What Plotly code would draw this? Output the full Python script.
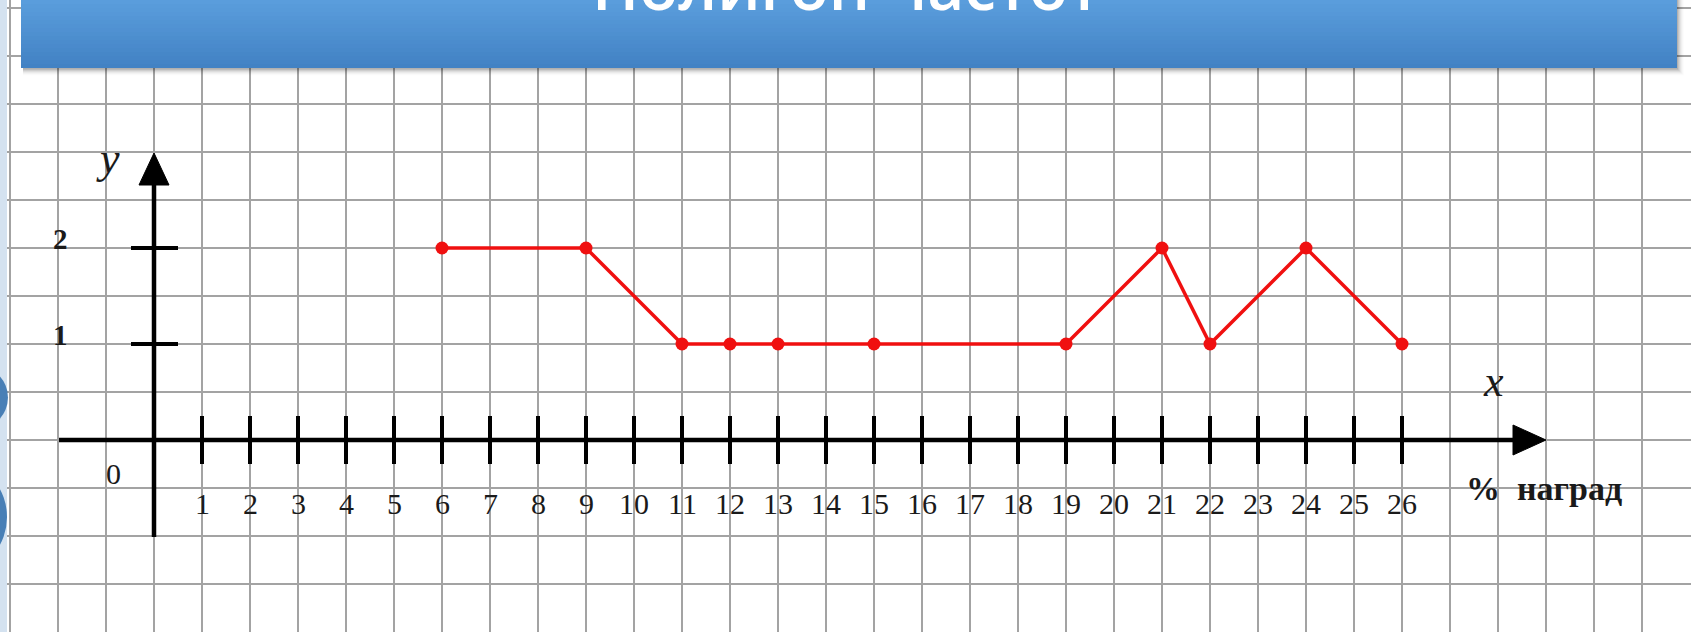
import plotly.graph_objects as go

# ---- data ----
percent_awards = [6, 9, 11, 12, 13, 15, 19, 21, 22, 24, 26]
frequency = [2, 2, 1, 1, 1, 1, 1, 2, 1, 2, 1]
x_tick_values = list(range(1, 27))
x_tick_labels = ["1", "2", "3", "4", "5", "6", "7", "8", "9", "10", "11", "12", "13",
                 "14", "15", "16", "17", "18", "19", "20", "21", "22", "23", "24", "25", "26"]
y_tick_values = [1, 2]
y_tick_labels = ["1", "2"]
title_text = "Полигон частот"
x_axis_name = "x"
y_axis_name = "y"
x_unit_label = "%  наград"

# ---- geometry (pixels) ----
W, H = 1691, 632
X0_PX, Y0_PX = 154, 440      # origin position in pixels
CELL = 48                    # grid cell in px; 1 x-unit = 1 cell, 1 y-unit = 2 cells
XU, YU = CELL, 2 * CELL

def dx(px):   # pixel -> data x
    return (px - X0_PX) / XU

def dy(py):   # pixel -> data y
    return (Y0_PX - py) / YU

x_range = [dx(0), dx(W)]
y_range = [dy(H), dy(0)]

fig = go.Figure()

fig.add_trace(go.Scatter(
    x=percent_awards, y=frequency, mode="lines+markers",
    line=dict(color="#f01010", width=3.5),
    marker=dict(color="#f01010", size=13),
    hoverinfo="skip", showlegend=False, cliponaxis=False,
))

shapes = []
annotations = []

# left light-blue strip and decorative blobs
shapes.append(dict(type="rect", xref="paper", yref="paper", x0=0, x1=7 / W, y0=0, y1=1,
                   fillcolor="#d4e2f0", line_width=0, layer="above"))
shapes.append(dict(type="circle", xref="paper", yref="paper",
                   x0=-60 / W, x1=8 / W, y0=1 - 430 / H, y1=1 - 365 / H,
                   fillcolor="#2466a8", line_width=0, layer="above", opacity=0.8))
shapes.append(dict(type="circle", xref="paper", yref="paper",
                   x0=-80 / W, x1=7 / W, y0=1 - 568 / H, y1=1 - 466 / H,
                   fillcolor="#2466a8", line_width=0, layer="above", opacity=0.8))

AX_COL = "#000000"
# x axis line + arrow
shapes.append(dict(type="line", x0=dx(59), x1=dx(1516), y0=0, y1=0,
                   line=dict(color=AX_COL, width=4.5), layer="above"))
shapes.append(dict(type="path",
                   path=f"M {dx(1513)},{15 / YU} L {dx(1546)},0 L {dx(1513)},{-15 / YU} Z",
                   fillcolor=AX_COL, line=dict(color=AX_COL, width=1), layer="above"))
# y axis line + arrow
shapes.append(dict(type="line", x0=0, x1=0, y0=dy(537), y1=dy(182),
                   line=dict(color=AX_COL, width=4.5), layer="above"))
shapes.append(dict(type="path",
                   path=f"M {-15 / XU},{dy(185)} L 0,{dy(153)} L {15 / XU},{dy(185)} Z",
                   fillcolor=AX_COL, line=dict(color=AX_COL, width=1), layer="above"))
# x ticks
for v in x_tick_values:
    shapes.append(dict(type="line", x0=v, x1=v, y0=-24 / YU, y1=24 / YU,
                       line=dict(color=AX_COL, width=4), layer="above"))
# y ticks
for v in y_tick_values:
    shapes.append(dict(type="line", x0=-23 / XU, x1=24 / XU, y0=v, y1=v,
                       line=dict(color=AX_COL, width=4), layer="above"))

SERIF = "Liberation Serif, Times New Roman, serif"
for v, t in zip(x_tick_values, x_tick_labels):
    annotations.append(dict(x=v, y=dy(503), text=t, showarrow=False,
                            font=dict(family=SERIF, size=30, color="#1a1a1a"),
                            xanchor="center", yanchor="middle"))
for v, t in zip(y_tick_values, y_tick_labels):
    annotations.append(dict(x=dx(60), y=v + 9 / YU, text=f"<b>{t}</b>", showarrow=False,
                            font=dict(family=SERIF, size=29, color="#1a1a1a"),
                            xanchor="center", yanchor="middle"))
annotations.append(dict(x=dx(113), y=dy(473), text="0", showarrow=False,
                        font=dict(family=SERIF, size=30, color="#1a1a1a"),
                        xanchor="center", yanchor="middle"))
annotations.append(dict(x=dx(108), y=dy(158), text=f"<i>{y_axis_name}</i>", showarrow=False,
                        font=dict(family=SERIF, size=44, color="#1a1a1a"),
                        xanchor="center", yanchor="middle"))
annotations.append(dict(x=dx(1493), y=dy(381), text=f"<i>{x_axis_name}</i>", showarrow=False,
                        font=dict(family=SERIF, size=44, color="#1a1a1a"),
                        xanchor="center", yanchor="middle"))
annotations.append(dict(x=dx(1464), y=dy(488), text=f"<b>{x_unit_label}</b>", showarrow=False,
                        font=dict(family=SERIF, size=34, color="#1a1a1a"),
                        xanchor="left", yanchor="middle"))

# title banner: shadow + vertical gradient
BX0, BX1, BY1 = 21, 1677, 68
for i, op in enumerate([0.10, 0.08, 0.06, 0.045, 0.03, 0.02, 0.012]):
    shapes.append(dict(type="rect", xref="paper", yref="paper",
                       x0=(BX0 + 2) / W, x1=(BX1 + i + 1) / W,
                       y0=1 - (BY1 + i + 1.5) / H, y1=1,
                       fillcolor=f"rgba(0,0,0,{op})", line_width=0, layer="above"))
top_c = (0x5a, 0x9d, 0xdc)
bot_c = (0x42, 0x82, 0xc4)
n = 17
for i in range(n):
    t = i / (n - 1)
    c = tuple(round(top_c[k] + (bot_c[k] - top_c[k]) * t) for k in range(3))
    y_top = i * BY1 / n
    y_bot = (i + 1) * BY1 / n + 0.6
    shapes.append(dict(type="rect", xref="paper", yref="paper",
                       x0=BX0 / W, x1=BX1 / W, y0=1 - min(y_bot, BY1) / H, y1=1 - y_top / H,
                       fillcolor=f"rgb{c}", line_width=0, layer="above"))

annotations.append(dict(xref="paper", yref="paper", x=846 / W, y=1 - 31 / H,
                        text=title_text, showarrow=False,
                        font=dict(family="Open Sans, sans-serif", size=64, color="#ffffff",
                                  weight=600),
                        xanchor="center", yanchor="bottom"))

fig.update_layout(
    width=W, height=H,
    margin=dict(l=0, r=0, t=0, b=0),
    paper_bgcolor="#ffffff", plot_bgcolor="#ffffff",
    xaxis=dict(range=x_range, dtick=1, tick0=0, showgrid=True, gridcolor="#a3a3a3",
               gridwidth=2, showticklabels=False, zeroline=False, showline=False,
               ticks="", fixedrange=True),
    yaxis=dict(range=y_range, dtick=0.5, tick0=0, showgrid=True, gridcolor="#a3a3a3",
               gridwidth=2, showticklabels=False, zeroline=False, showline=False,
               ticks="", fixedrange=True),
    shapes=shapes, annotations=annotations,
)

fig.write_html("out.html",
               config={"displayModeBar": False, "staticPlot": True},
               post_script="document.body.style.margin='0px';"
                           "document.body.style.overflow='hidden';")
